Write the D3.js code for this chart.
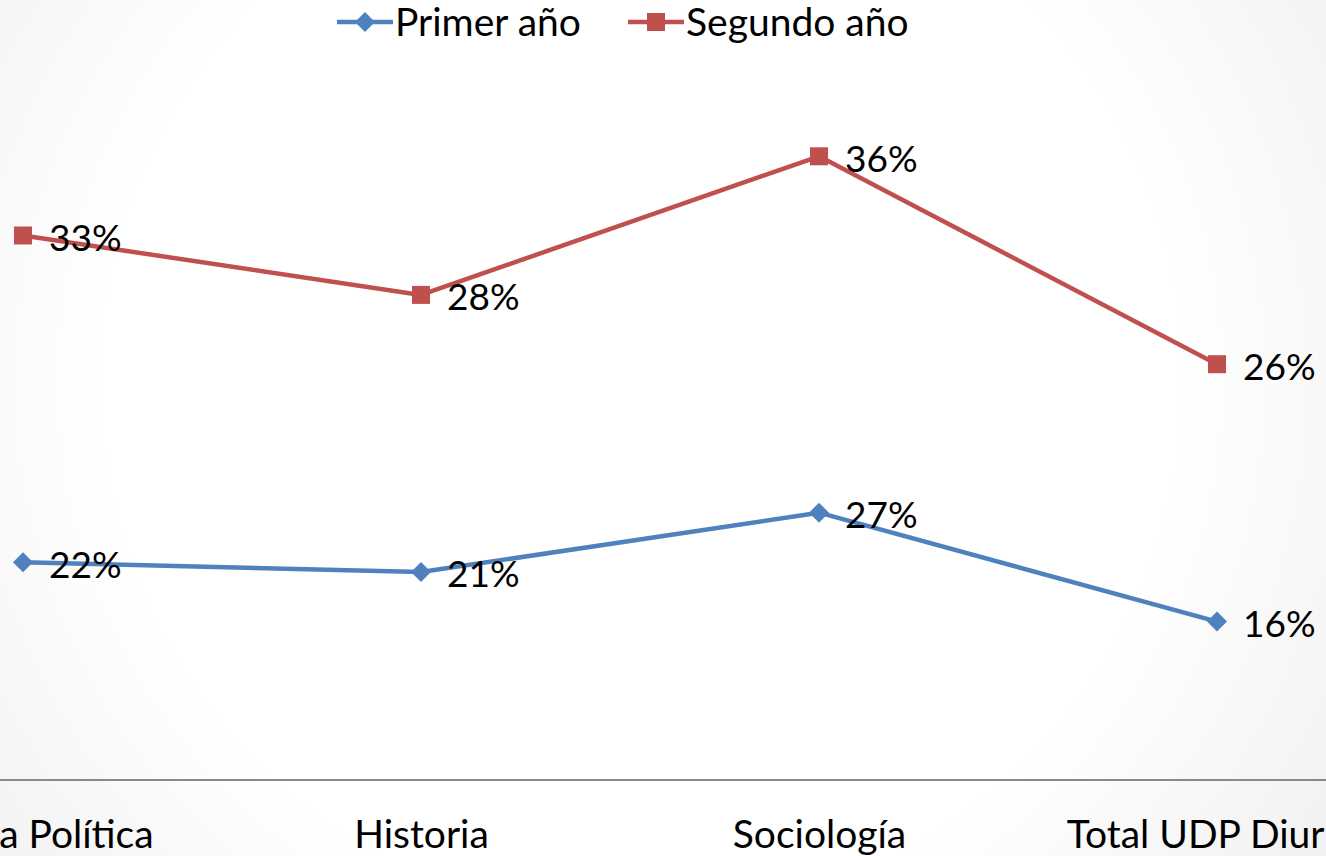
<!DOCTYPE html>
<html>
<head>
<meta charset="utf-8">
<script src="https://cdn.jsdelivr.net/npm/d3@7"></script>
<style>
  html, body { margin: 0; padding: 0; overflow: hidden; }
  text { font-family: Lato, "Open Sans", sans-serif; fill: #000; }
</style>
</head>
<body>
<div class="svg-wrap"></div>
<script>
// data
let categories = ["Ciencia Política", "Historia", "Sociología", "Total UDP Diurno"];
let seriesNames = ["Primer año", "Segundo año"];
let primerAno = [22, 21, 27, 16];
let segundoAno = [33, 28, 36, 26];
let colors = ["#4F81BD", "#C0504D"];

var width = 1326, height = 856;

let svg = d3.select(".svg-wrap")
  .append("svg")
  .attr("width", width)
  .attr("height", height);

// soft radial background
let grad = svg.append("defs").append("radialGradient")
  .attr("id", "bg")
  .attr("gradientUnits", "userSpaceOnUse")
  .attr("cx", 640).attr("cy", 380).attr("r", 900);
grad.append("stop").attr("offset", "0%").attr("stop-color", "#ffffff");
grad.append("stop").attr("offset", "60%").attr("stop-color", "#ffffff");
grad.append("stop").attr("offset", "100%").attr("stop-color", "#eeeeee");
svg.append("rect").attr("width", width).attr("height", height).attr("fill", "url(#bg)");

let table = categories.map((c, i) => ({cat: c, "Primer año": primerAno[i], "Segundo año": segundoAno[i]}));
let stacked = d3.stack().keys(seriesNames)(table);

let scaleX = d3.scalePoint().domain(categories).range([23, 1217]);
let scaleY = d3.scaleLinear().domain([0, 70]).range([780, 87]);

// x axis
let xAxis = d3.axisBottom(scaleX).tickSize(0).tickSizeOuter(0).tickPadding(40);
let gx = svg.append("g")
  .attr("transform", `translate(0,${scaleY(0)})`)
  .call(xAxis);
gx.select(".domain").attr("d", `M0,0H${width}`).attr("stroke", "#898989").attr("stroke-width", 2);
gx.selectAll("text").style("font-size", "39px").attr("font-family", "Lato, sans-serif").attr("fill", "#000");

let line = d3.line()
  .x(d => scaleX(d.data.cat))
  .y(d => scaleY(d[1]));

stacked.forEach((s, si) => {
  let g = svg.append("g");
  g.append("path")
    .datum(s)
    .attr("d", line)
    .attr("fill", "none")
    .attr("stroke", colors[si])
    .attr("stroke-width", 4.5)
    .attr("stroke-linejoin", "round");

  if (si === 0) {
    g.selectAll(".m").data(s).enter().append("path")
      .attr("d", "M0,-10L10,0L0,10L-10,0Z")
      .attr("transform", d => `translate(${scaleX(d.data.cat)},${scaleY(d[1])})`)
      .attr("fill", colors[si]);
  } else {
    g.selectAll(".m").data(s).enter().append("rect")
      .attr("x", d => scaleX(d.data.cat) - 9)
      .attr("y", d => scaleY(d[1]) - 9)
      .attr("width", 18).attr("height", 18)
      .attr("fill", colors[si]);
  }

  g.selectAll(".lbl").data(s).enter().append("text")
    .attr("x", d => scaleX(d.data.cat) + 26)
    .attr("y", d => scaleY(d[1]) + 2)
    .attr("dy", "0.36em")
    .style("font-size", "37px")
    .text(d => (d[1] - d[0]) + "%");
});

// legend
let legendX = [337, 628];
let legend = svg.append("g").selectAll("g").data(seriesNames).enter().append("g")
  .attr("transform", (d, i) => `translate(${legendX[i]},22)`);
legend.append("line")
  .attr("x1", 0).attr("x2", 56)
  .attr("stroke", (d, i) => colors[i]).attr("stroke-width", 4.5);
legend.each(function (d, i) {
  let el = d3.select(this);
  if (i === 0) {
    el.append("path").attr("d", "M28,-10L38,0L28,10L18,0Z").attr("fill", colors[i]);
  } else {
    el.append("rect").attr("x", 19).attr("y", -9).attr("width", 18).attr("height", 18).attr("fill", colors[i]);
  }
});
legend.append("text")
  .attr("x", 58)
  .attr("dy", "0.36em")
  .style("font-size", "39px")
  .text(d => d);
</script>
</body>
</html>
